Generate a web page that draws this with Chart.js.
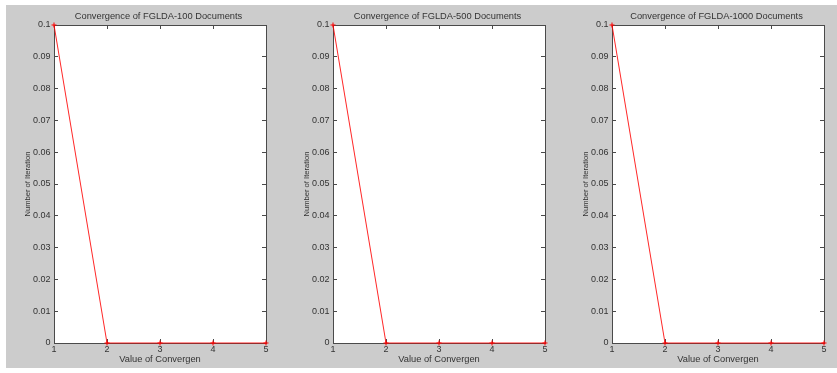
<!DOCTYPE html>
<html>
<head>
<meta charset="utf-8">
<script src="https://cdn.jsdelivr.net/npm/chart.js@4.4.1/dist/chart.umd.min.js"></script>
<style>
    html, body { margin: 0; padding: 0; background: #ffffff; overflow: hidden; }
    body { width: 837px; height: 373px; position: relative; }
    #figure { position: absolute; left: 6px; top: 5px; width: 831px; height: 363px; background: #cccccc; }
    canvas { position: absolute; top: 0; }
</style>
</head>
<body>
<div id="figure"></div>
<canvas id="chart100" width="317" height="373" style="left:0px"></canvas>
<canvas id="chart500" width="317" height="373" style="left:279px"></canvas>
<canvas id="chart1000" width="317" height="373" style="left:558px"></canvas>
<script>
// values
const xLabels = ['1', '2', '3', '4', '5'];
const yTickLabels = ['0', '0.01', '0.02', '0.03', '0.04', '0.05', '0.06', '0.07', '0.08', '0.09', '0.1'];
const iterations100 = [0.1, 0, 0, 0, 0];
const iterations500 = [0.1, 0, 0, 0, 0];
const iterations1000 = [0.1, 0, 0, 0, 0];
const chartTitles = [
    'Convergence of FGLDA-100 Documents',
    'Convergence of FGLDA-500 Documents',
    'Convergence of FGLDA-1000 Documents'
];

const fontFamily = '"Liberation Sans", Arial, sans-serif';
const axisColor = '#4a4a4a';
const textColor = '#333333';

// white plot box like the matlab axes
const plotBackground = {
    id: 'plotBackground',
    beforeDraw(chart) {
        const { ctx, chartArea } = chart;
        ctx.save();
        ctx.fillStyle = '#ffffff';
        ctx.fillRect(chartArea.left, chartArea.top, chartArea.width, chartArea.height);
        ctx.restore();
    }
};

function tickGrid() {
    return {
        drawOnChartArea: false,
        drawTicks: true,
        tickLength: -4, // ticks point inside the box
        color: axisColor,
        lineWidth: 1
    };
}

function makeChart(canvasId, title, values) {
    const ctx = document.getElementById(canvasId).getContext('2d');
    return new Chart(ctx, {
        type: 'line',
        data: {
            labels: xLabels,
            datasets: [{
                data: values,
                borderColor: 'rgba(255, 0, 0, 0.85)',
                borderWidth: 1,
                pointStyle: 'cross',
                pointRadius: 2.5,
                pointBorderWidth: 1,
                pointBorderColor: '#ff0000',
                tension: 0,
                clip: false
            }]
        },
        options: {
            responsive: false,
            animation: false,
            layout: { padding: 0 },
            plugins: {
                legend: { display: false },
                tooltip: { enabled: false },
                title: {
                    display: true,
                    text: title,
                    color: textColor,
                    font: { family: fontFamily, size: 9.3, weight: 'normal', lineHeight: 1.2 },
                    padding: { top: 10.9, bottom: 2.94 }
                }
            },
            scales: {
                x: {
                    position: 'bottom',
                    grid: tickGrid(),
                    border: { display: true, color: axisColor, width: 1 },
                    ticks: {
                        color: textColor,
                        font: { family: fontFamily, size: 9 },
                        padding: 5.6,
                        maxRotation: 0,
                        autoSkip: false
                    },
                    title: {
                        display: true,
                        text: 'Value of Convergen',
                        color: textColor,
                        font: { family: fontFamily, size: 9.3, lineHeight: 1.2 },
                        padding: { top: 0, bottom: 8.4 }
                    },
                    afterFit: function (scale) { scale.height = 30; }
                },
                x2: {
                    position: 'top',
                    type: 'category',
                    grid: tickGrid(),
                    border: { display: true, color: axisColor, width: 1 },
                    ticks: { display: false },
                    afterFit: function (scale) { scale.height = 0; }
                },
                y: {
                    position: 'left',
                    min: 0,
                    max: 0.1,
                    grid: tickGrid(),
                    border: { display: true, color: axisColor, width: 1 },
                    ticks: {
                        stepSize: 0.01,
                        color: textColor,
                        font: { family: fontFamily, size: 9 },
                        padding: 7.5,
                        callback: function (value, index) { return yTickLabels[index]; }
                    },
                    title: {
                        display: true,
                        text: 'Number of Iteration',
                        color: textColor,
                        font: { family: fontFamily, size: 7.6, lineHeight: 1.2 },
                        padding: { top: 23.2, bottom: 0 }
                    },
                    afterFit: function (scale) { scale.width = 54; }
                },
                y2: {
                    position: 'right',
                    type: 'linear',
                    min: 0,
                    max: 0.1,
                    grid: tickGrid(),
                    border: { display: true, color: axisColor, width: 1 },
                    ticks: { stepSize: 0.01, display: false },
                    afterFit: function (scale) { scale.width = 51; }
                }
            }
        },
        plugins: [plotBackground]
    });
}

makeChart('chart100', chartTitles[0], iterations100);
makeChart('chart500', chartTitles[1], iterations500);
makeChart('chart1000', chartTitles[2], iterations1000);
</script>
</body>
</html>
